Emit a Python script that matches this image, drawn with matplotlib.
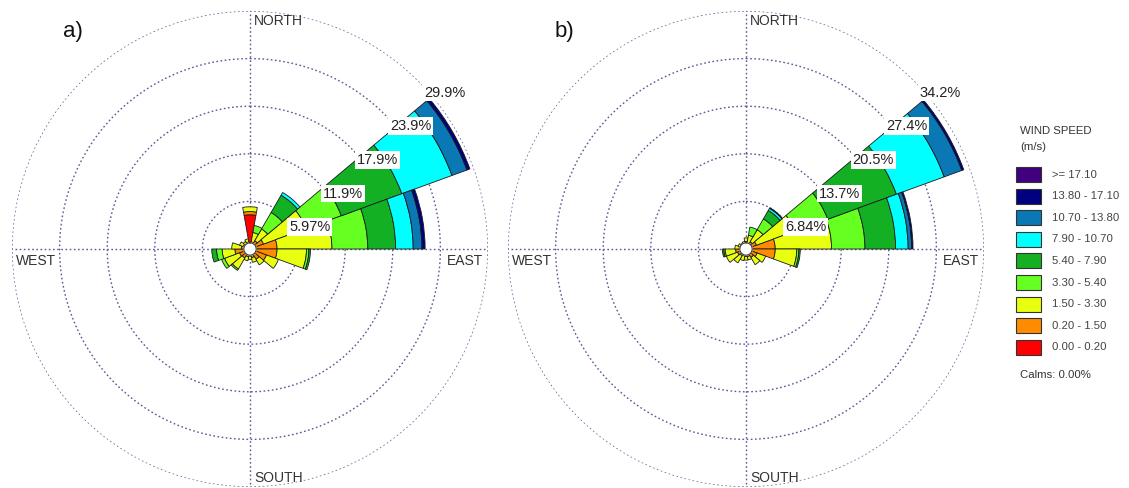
import matplotlib
matplotlib.use("Agg")
import matplotlib.pyplot as plt
import numpy as np
from matplotlib.patches import Rectangle

plt.rcParams["font.family"] = ["Liberation Sans", "DejaVu Sans"]

W, H = 1129, 488

# wind speed classes (m/s), lowest first
speed_labels = ["0.00 - 0.20", "0.20 - 1.50", "1.50 - 3.30", "3.30 - 5.40", "5.40 - 7.90",
                "7.90 - 10.70", "10.70 - 13.80", "13.80 - 17.10", ">= 17.10"]
speed_colors = ["#ff0000", "#ff8c00", "#e8ff10", "#66ff22", "#14b024",
                "#00ffff", "#0a78b4", "#000080", "#400080"]

directions = [0, 20, 40, 60, 80, 100, 120, 140, 160, 180, 200, 220, 240, 260, 280, 300, 320, 340]

# frequency (%) per direction, one column per speed class
freq_a = [
    [4.3, 0.4, 0.6, 0.0, 0.0, 0.0, 0.0, 0.0, 0.0],
    [0.1, 0.8, 1.2, 0.9, 0.0, 0.0, 0.0, 0.0, 0.0],
    [0.1, 1.1, 1.7, 2.4, 2.5, 0.4, 0.0, 0.0, 0.0],
    [0.1, 1.7, 5.7, 4.7, 8.1, 6.7, 2.0, 0.4, 0.0],
    [0.1, 3.3, 6.9, 4.5, 3.5, 2.2, 1.1, 0.4, 0.0],
    [0.1, 3.3, 3.7, 0.3, 0.2, 0.0, 0.0, 0.0, 0.0],
    [0.1, 2.1, 1.6, 0.0, 0.0, 0.0, 0.0, 0.0, 0.0],
    [0.1, 1.4, 0.8, 0.0, 0.0, 0.0, 0.0, 0.0, 0.0],
    [0.1, 1.0, 0.6, 0.0, 0.0, 0.0, 0.0, 0.0, 0.0],
    [0.1, 0.8, 0.4, 0.0, 0.0, 0.0, 0.0, 0.0, 0.0],
    [0.1, 0.9, 0.5, 0.0, 0.0, 0.0, 0.0, 0.0, 0.0],
    [0.1, 1.2, 1.6, 0.2, 0.0, 0.0, 0.0, 0.0, 0.0],
    [0.1, 1.3, 2.0, 0.4, 0.0, 0.0, 0.0, 0.0, 0.0],
    [0.1, 1.8, 1.6, 0.7, 0.6, 0.0, 0.0, 0.0, 0.0],
    [0.1, 1.0, 1.2, 0.0, 0.0, 0.0, 0.0, 0.0, 0.0],
    [0.1, 0.8, 0.5, 0.0, 0.0, 0.0, 0.0, 0.0, 0.0],
    [0.1, 0.7, 0.3, 0.0, 0.0, 0.0, 0.0, 0.0, 0.0],
    [0.1, 0.8, 0.4, 0.0, 0.0, 0.0, 0.0, 0.0, 0.0],
]

freq_b = [
    [0.1, 1.0, 0.5, 0.0, 0.0, 0.0, 0.0, 0.0, 0.0],
    [0.1, 0.8, 1.1, 1.2, 0.0, 0.0, 0.0, 0.0, 0.0],
    [0.1, 1.1, 2.0, 1.8, 1.4, 0.35, 0.1, 0.0, 0.0],
    [0.1, 1.5, 5.9, 5.0, 10.5, 7.3, 2.7, 0.3, 0.0],
    [0.1, 4.1, 8.1, 4.8, 4.4, 1.8, 0.5, 0.2, 0.0],
    [0.1, 4.1, 3.1, 0.3, 0.2, 0.0, 0.0, 0.0, 0.0],
    [0.1, 1.6, 1.3, 0.0, 0.0, 0.0, 0.0, 0.0, 0.0],
    [0.1, 1.3, 1.2, 0.0, 0.0, 0.0, 0.0, 0.0, 0.0],
    [0.1, 1.0, 0.5, 0.0, 0.0, 0.0, 0.0, 0.0, 0.0],
    [0.1, 1.0, 0.5, 0.0, 0.0, 0.0, 0.0, 0.0, 0.0],
    [0.1, 0.9, 0.7, 0.0, 0.0, 0.0, 0.0, 0.0, 0.0],
    [0.1, 1.0, 1.2, 0.0, 0.0, 0.0, 0.0, 0.0, 0.0],
    [0.1, 1.2, 1.7, 0.0, 0.0, 0.0, 0.0, 0.0, 0.0],
    [0.1, 1.4, 1.5, 0.2, 0.2, 0.0, 0.0, 0.0, 0.0],
    [0.1, 0.9, 0.6, 0.0, 0.0, 0.0, 0.0, 0.0, 0.0],
    [0.1, 0.7, 0.4, 0.0, 0.0, 0.0, 0.0, 0.0, 0.0],
    [0.1, 0.6, 0.3, 0.0, 0.0, 0.0, 0.0, 0.0, 0.0],
    [0.1, 0.6, 0.4, 0.0, 0.0, 0.0, 0.0, 0.0, 0.0],
]

ring_labels_a = ["5.97%", "11.9%", "17.9%", "23.9%", "29.9%"]
ring_labels_b = ["6.84%", "13.7%", "20.5%", "27.4%", "34.2%"]
rmax_a = 29.9
rmax_b = 34.2

GRID = "#5a5a96"
DOTS = (0, (1.2, 1.8))


def px_box(x0, y0, w, h):
    return [x0 / W, 1 - (y0 + h) / H, w / W, h / H]


def draw_rose(ax, freq, rmax, ring_labels):
    ax.set_theta_zero_location("N")
    ax.set_theta_direction(-1)
    ax.set_ylim(0, rmax)
    ax.set_xticks([])
    ax.set_yticks([])
    ax.grid(False)
    ax.spines["polar"].set_visible(False)
    ax.patch.set_alpha(0)

    t = np.linspace(0, 2 * np.pi, 400)
    for k in range(1, 6):
        ax.plot(t, np.full_like(t, rmax * k / 5), color=GRID, lw=1.0, ls=DOTS, zorder=1)
    for a in [0, np.pi / 2, np.pi, 3 * np.pi / 2]:
        ax.plot([a, a], [0, rmax], color=GRID, lw=1.0, ls=DOTS, zorder=1)

    theta = np.deg2rad(directions)
    freq = np.array(freq)
    bottom = np.zeros(len(directions))
    for j, col in enumerate(speed_colors):
        h = freq[:, j]
        mask = h > 0
        ax.bar(theta[mask], h[mask], width=np.deg2rad(20), bottom=bottom[mask],
               color=col, edgecolor="#1a1a1a", linewidth=0.6, zorder=3)
        bottom += h

    # calm circle
    ax.fill(t, np.full_like(t, rmax * 0.026), color="white", zorder=4)
    ax.plot(t, np.full_like(t, rmax * 0.026), color="#333333", lw=0.8, zorder=5)

    for k, lab in enumerate(ring_labels, start=1):
        ax.annotate(lab, xy=(np.deg2rad(45), rmax * k / 5), xytext=(4, -3.5),
                    textcoords="offset points", ha="left", va="top", fontsize=10.5,
                    color="#222222", zorder=6,
                    bbox=dict(boxstyle="square,pad=0.12", fc="white", ec="none"))

    kw = dict(textcoords="offset points", fontsize=10, color="#333333", va="center", zorder=6)
    ax.annotate("NORTH", xy=(0, rmax), xytext=(3, -7.5), ha="left", **kw)
    ax.annotate("EAST", xy=(np.pi / 2, rmax), xytext=(-3.5, -8.5), ha="right", **kw)
    ax.annotate("SOUTH", xy=(np.pi, rmax), xytext=(3, 6.5), ha="left", **kw)
    ax.annotate("WEST", xy=(3 * np.pi / 2, rmax), xytext=(2.5, -8.5), ha="left", **kw)


def draw_legend(fig):
    fig.text(1020 / W, 1 - 131 / H, "WIND SPEED", fontsize=8.2, color="#333333", va="center")
    fig.text(1020 / W, 1 - 147 / H, "(m/s)", fontsize=8.2, color="#333333", va="center")
    labels = speed_labels[::-1]
    colors = speed_colors[::-1]
    for i, (lab, col) in enumerate(zip(labels, colors)):
        top = 167 + i * 21.6
        fig.patches.append(Rectangle((1016 / W, 1 - (top + 15) / H), 25 / W, 15 / H,
                                     transform=fig.transFigure, facecolor=col,
                                     edgecolor="#333333", linewidth=0.8))
        fig.text(1052 / W, 1 - (top + 7.5) / H, lab, fontsize=8.2, color="#444444", va="center")
    fig.text(1020 / W, 1 - 375 / H, "Calms: 0.00%", fontsize=8.2, color="#333333", va="center")


def main() -> None:
    fig = plt.figure(figsize=(W / 100, H / 100), dpi=100)
    ax_a = fig.add_axes(px_box(12, 11, 476, 476), projection="polar")
    ax_b = fig.add_axes(px_box(508, 11, 476, 476), projection="polar")
    draw_rose(ax_a, freq_a, rmax_a, ring_labels_a)
    draw_rose(ax_b, freq_b, rmax_b, ring_labels_b)
    fig.text(63 / W, 1 - 31 / H, "a)", fontsize=16, va="center", color="#111111")
    fig.text(555 / W, 1 - 31 / H, "b)", fontsize=16, va="center", color="#111111")
    draw_legend(fig)
    fig.savefig("out.png", dpi=100)
    plt.close(fig)


if __name__ == "__main__":
    main()
